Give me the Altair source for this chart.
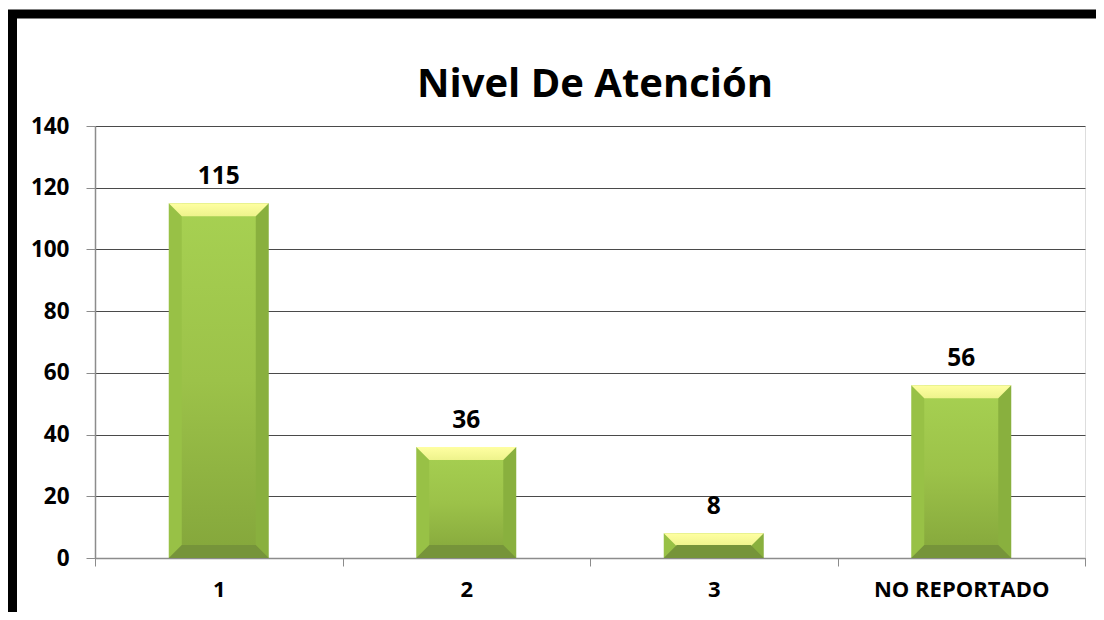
import altair as alt
import pandas as pd

categories = ["1", "2", "3", "NO REPORTADO"]
values = [115, 36, 8, 56]
y_ticks = [0, 20, 40, 60, 80, 100, 120, 140]
title_text = "Nivel De Atención"

df = pd.DataFrame({"cat": categories, "val": values, "zero": [0] * len(values)})

FONT = "Open Sans"
W, H = 990, 432
BAR_W = 100

x_enc = alt.X("cat:N", sort=categories, title=None,
              scale=alt.Scale(paddingInner=0, paddingOuter=0),
              axis=alt.Axis(labelAngle=0, labelFont=FONT, labelFontSize=22, labelFontWeight="bold",
                            labelColor="black", labelPadding=13, tickBand="extent", tickSize=8,
                            tickColor="#8c8c8c", domainColor="#8c8c8c", domainWidth=1.5, grid=False))
y_scale = alt.Scale(domain=[0, 140], nice=False)
y_enc = alt.Y("val:Q", scale=y_scale, title=None,
              axis=alt.Axis(values=y_ticks, labelFont=FONT, labelFontSize=22.5, labelFontWeight="bold",
                            labelColor="black", labelPadding=17, tickSize=9, tickColor="#8c8c8c",
                            domainColor="#8c8c8c", domainWidth=1.5, gridColor="#4a4a4a", gridWidth=1))

base = alt.Chart(df)

side_grad = alt.Gradient(gradient="linear", x1=0, x2=1, y1=0, y2=0, stops=[
    alt.GradientStop(offset=0, color="#98c146"), alt.GradientStop(offset=0.5, color="#98c146"),
    alt.GradientStop(offset=0.5, color="#89b03e"), alt.GradientStop(offset=1, color="#89b03e")])
sides = base.mark_bar(width=BAR_W, fill=side_grad).encode(x=x_enc, y=y_enc, y2="zero:Q")

face_grad = alt.Gradient(gradient="linear", x1=0, x2=0, y1=0, y2=1, stops=[
    alt.GradientStop(offset=0, color="#a7d152"), alt.GradientStop(offset=0.5, color="#9cc249"),
    alt.GradientStop(offset=1, color="#84a63b")])
face = base.mark_bar(width=BAR_W - 26, fill=face_grad).encode(x=alt.X("cat:N", sort=categories),
                                                              y=alt.Y("val:Q"), y2="zero:Q")

top_grad = alt.Gradient(gradient="linear", x1=0, x2=0, y1=0, y2=1, stops=[
    alt.GradientStop(offset=0, color="#ffffa2"), alt.GradientStop(offset=1, color="#eef38c")])
top = base.mark_point(shape="M-1,-0.13L1,-0.13L0.74,0.13L-0.74,0.13Z", filled=True, size=BAR_W * BAR_W,
                      fill=top_grad, opacity=1, strokeWidth=0, yOffset=6.5).encode(
    x=alt.X("cat:N", sort=categories), y=alt.Y("val:Q"))

bottom = base.mark_point(shape="M-0.74,-0.13L0.74,-0.13L1,0.13L-1,0.13Z", filled=True, size=BAR_W * BAR_W,
                         fill="#76943a", opacity=1, strokeWidth=0, yOffset=-6.5).encode(
    x=alt.X("cat:N", sort=categories), y=alt.Y("zero:Q"))

labels = base.mark_text(font=FONT, fontSize=24.5, fontWeight="bold", color="black",
                        baseline="alphabetic", dy=-19).encode(
    x=alt.X("cat:N", sort=categories), y=alt.Y("val:Q"), text="val:Q")

single = alt.Chart(pd.DataFrame({"t": [title_text]}))
title = single.mark_text(font=FONT, fontSize=40, fontWeight="bold", color="black",
                         baseline="alphabetic", align="center").encode(
    x=alt.value(W / 2 + 5), y=alt.value(-29), text="t:N")

frame = single.mark_rect(filled=False, stroke="black", strokeWidth=9).encode(
    x=alt.value(-82.5), x2=alt.value(1030), y=alt.value(-112), y2=alt.value(540))

chart = alt.layer(sides, face, top, bottom, labels, title, frame).properties(
    width=W, height=H,
    autosize=alt.AutoSizeParams(type="none"),
    padding={"left": 87, "top": 118, "right": 11, "bottom": 54},
).configure_view(stroke=None).configure(background="white")

chart.save("out.html", embed_options={"renderer": "svg", "actions": False})
